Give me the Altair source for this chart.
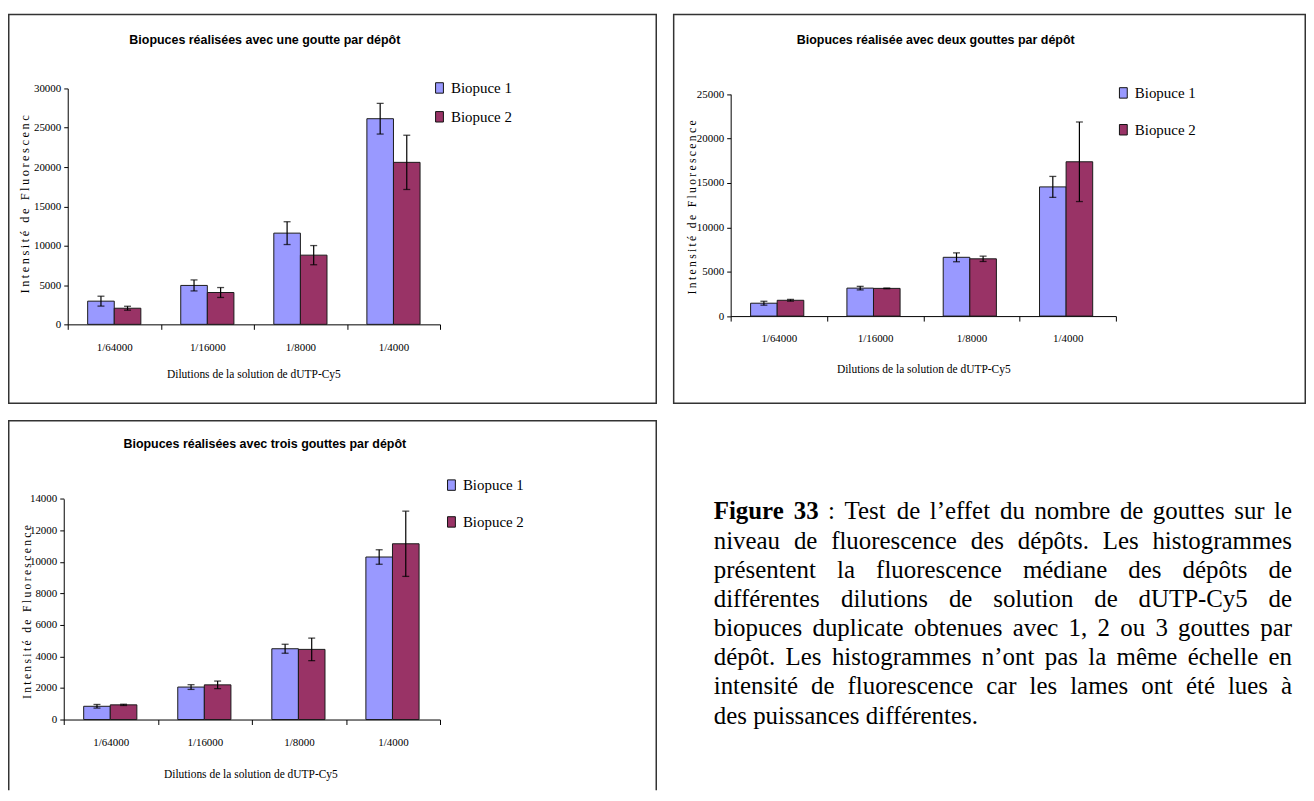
import altair as alt
import pandas as pd

# ---------------- data ----------------
categories = ["1/64000", "1/16000", "1/8000", "1/4000"]
series = ["Biopuce 1", "Biopuce 2"]
colors = ["#9999FF", "#993366"]

# panel 1 : une goutte
p1_b1 = [2950, 4950, 11600, 26150]
p1_b1_err = [630, 700, 1450, 1950]
p1_b2 = [2050, 4050, 8800, 20600]
p1_b2_err = [250, 630, 1220, 3450]
# panel 2 : deux gouttes
p2_b1 = [1450, 3150, 6620, 14550]
p2_b1_err = [220, 200, 500, 1180]
p2_b2 = [1780, 3120, 6450, 17380]
p2_b2_err = [100, 40, 300, 4480]
# panel 3 : trois gouttes
p3_b1 = [840, 2060, 4490, 10310]
p3_b1_err = [115, 150, 285, 460]
p3_b2 = [930, 2200, 4450, 11150]
p3_b2_err = [40, 240, 715, 2070]

panel_titles = [
    "Biopuces réalisées avec une goutte par dépôt",
    "Biopuces réalisée avec deux gouttes par dépôt",
    "Biopuces réalisées avec trois gouttes par dépôt",
]
y_ticks = [
    [0, 5000, 10000, 15000, 20000, 25000, 30000],
    [0, 5000, 10000, 15000, 20000, 25000],
    [0, 2000, 4000, 6000, 8000, 10000, 12000, 14000],
]
x_title = "Dilutions de la solution de dUTP-Cy5"
y_title = "Intensité de Fluorescence"

caption_lines = [
    "Figure 33 : Test de l’effet du nombre de gouttes sur le",
    "niveau de fluorescence des dépôts. Les histogrammes",
    "présentent la fluorescence médiane des dépôts de",
    "différentes dilutions de solution de dUTP-Cy5 de",
    "biopuces duplicate obtenues avec 1, 2 ou 3 gouttes par",
    "dépôt. Les histogrammes n’ont pas la même échelle en",
    "intensité de fluorescence car les lames ont été lues à",
    "des puissances différentes.",
]
caption_bold_words = 2  # "Figure", "33"

SERIF = "Liberation Serif, Times New Roman, serif"
NARROW = "Liberation Sans Narrow, Arial Narrow, Liberation Sans, sans-serif"
THIN = "\u2009"


def spaced(s):
    # letter-spaced rendering of the axis title (thin spaces between characters)
    return THIN.join(list(s))


def make_df(b1, e1, b2, e2):
    rows = []
    for s, vals, errs in ((series[0], b1, e1), (series[1], b2, e2)):
        for c, v, e in zip(categories, vals, errs):
            rows.append({"cat": c, "serie": s, "value": v, "lo": v - e, "hi": v + e})
    return pd.DataFrame(rows)


def panel(df, title, ticks, w, h, xr, yr, leg, title_xy, xt_xy, yt, clip_bottom=False):
    yscale = alt.Scale(domain=[ticks[0], ticks[-1]], range=yr, nice=False, zero=True)
    yaxis = alt.Axis(
        title=None, values=ticks, format="d", offset=-xr[0], grid=False,
        labelFont=SERIF, labelFontSize=11, labelColor="black",
        tickColor="black", domainColor="black", tickSize=4, labelPadding=3,
    )
    xenc = alt.X(
        "cat:N", sort=categories,
        scale=alt.Scale(range=xr, paddingInner=0, paddingOuter=0),
        axis=alt.Axis(
            title=None, offset=yr[0] - h, tickBand="extent", labelAngle=0,
            labelFont=SERIF, labelFontSize=11, labelColor="black",
            tickColor="black", domainColor="black", tickSize=5, labelPadding=12, grid=False,
        ),
    )
    xoff = alt.XOffset("serie:N", sort=series, scale=alt.Scale(paddingOuter=0.75, paddingInner=0))

    def yenc(field):
        return alt.Y(field, type="quantitative", scale=yscale, axis=yaxis)

    base = alt.Chart(df)
    bars = base.mark_bar(stroke="#1a1a1a", strokeWidth=1).encode(
        x=xenc, xOffset=xoff, y=yenc("value"),
        color=alt.Color(
            "serie:N", sort=series, scale=alt.Scale(domain=series, range=colors),
            legend=alt.Legend(
                orient="none", legendX=leg[0], legendY=leg[1], title=None, padding=0,
                symbolType="M-0.75,-1H0.75V1H-0.75Z", symbolSize=110,
                symbolStrokeColor="#111", symbolStrokeWidth=1, symbolOpacity=1,
                labelFont=SERIF, labelFontSize=15, labelColor="black",
                rowPadding=leg[2], labelOffset=4,
            ),
        ),
    )
    rules = base.mark_rule(color="black", strokeWidth=1.2).encode(
        x=xenc, xOffset=xoff, y=yenc("lo"), y2="hi:Q"
    )
    cap_hi = base.mark_tick(color="black", thickness=1.3, size=7, orient="horizontal").encode(
        x=xenc, xOffset=xoff, y=yenc("hi")
    )
    cap_lo = base.mark_tick(color="black", thickness=1.3, size=7, orient="horizontal").encode(
        x=xenc, xOffset=xoff, y=yenc("lo")
    )

    ttl = alt.Chart(pd.DataFrame({"t": [title]})).mark_text(
        font=NARROW, fontSize=12.5, fontWeight="bold", color="black", align="center", baseline="middle"
    ).encode(x=alt.value(title_xy[0]), y=alt.value(title_xy[1]), text="t:N")
    xt = alt.Chart(pd.DataFrame({"t": [x_title]})).mark_text(
        font=SERIF, fontSize=11.5, color="black", align="center", baseline="middle"
    ).encode(x=alt.value(xt_xy[0]), y=alt.value(xt_xy[1]), text="t:N")
    ytt = alt.Chart(pd.DataFrame({"t": [spaced(y_title)]})).mark_text(
        font=SERIF, fontSize=yt[4], color="black", align=yt[3], baseline="middle", angle=270,
        limit=yt[2], ellipsis="\u200b",
    ).encode(x=alt.value(yt[0]), y=alt.value(yt[1]), text="t:N")

    border = alt.Chart(pd.DataFrame({"k": [0]})).mark_rect(
        fill="white", fillOpacity=0, stroke="#333", strokeWidth=1.5, clip=clip_bottom
    ).encode(
        x=alt.value(0.75), x2=alt.value(w - 0.75),
        y=alt.value(0.75), y2=alt.value(h + 10 if clip_bottom else h - 0.75),
    )
    return alt.layer(border, bars, rules, cap_hi, cap_lo, ttl, xt, ytt).properties(width=w, height=h)


p1 = panel(make_df(p1_b1, p1_b1_err, p1_b2, p1_b2_err), panel_titles[0], y_ticks[0],
           652, 392, [60, 434], [312, 75], (426, 67, 13), (258, 26), (247, 363),
           (17, 281, 180, "left", 12.5))
p2 = panel(make_df(p2_b1, p2_b1_err, p2_b2, p2_b2_err), panel_titles[1], y_ticks[1],
           636, 392, [58, 445], [303.7, 80.7], (445, 72, 21), (264, 26), (252, 358),
           (19, 194.5, 400, "center", 11.7))
p3 = panel(make_df(p3_b1, p3_b1_err, p3_b2, p3_b2_err), panel_titles[2], y_ticks[2],
           652, 372, [56, 434], [301, 79.3], (438, 58, 21), (258, 24), (244, 357),
           (19, 193, 400, "center", 11.7), clip_bottom=True)

# ---------------- caption (justified with Times metrics) ----------------
TIMES = {" ": 250, ",": 250, ".": 250, ":": 278, "-": 333, "’": 333, "'": 333, "/": 278,
         "A": 722, "B": 667, "C": 667, "D": 722, "E": 611, "F": 556, "L": 611, "P": 556,
         "T": 611, "U": 722, "Y": 722,
         "a": 444, "b": 500, "c": 444, "d": 500, "e": 444, "f": 333, "g": 500, "h": 500,
         "i": 278, "j": 278, "k": 500, "l": 278, "m": 778, "n": 500, "o": 500, "p": 500,
         "q": 500, "r": 333, "s": 389, "t": 278, "u": 500, "v": 500, "w": 722, "x": 500,
         "y": 500, "z": 444, "é": 444, "è": 444, "ê": 444, "à": 444, "ô": 500}
TIMES_BOLD = {"F": 611, "i": 278, "g": 500, "u": 556, "r": 444, "e": 444, " ": 250}
FS = 25
LINE_H = 29.3


def word_width(word, bold):
    table = TIMES_BOLD if bold else TIMES
    return sum(table.get(ch, 500) for ch in word) * FS / 1000.0


cap_rows = []
left, right = 41, 622
for li, line in enumerate(caption_lines):
    words = line.split(" ")
    bolds = [(li == 0 and k < caption_bold_words) for k in range(len(words))]
    widths = [word_width(wd, b) for wd, b in zip(words, bolds)]
    if li < len(caption_lines) - 1:
        gap = (right - left - sum(widths)) / (len(words) - 1)
    else:
        gap = 0.25 * FS
    xpos = left
    for wd, b, wdt in zip(words, bolds, widths):
        cap_rows.append({"word": wd, "x": xpos, "line": li, "bold": "b" if b else "n"})
        xpos += wdt + gap
cap_df = pd.DataFrame(cap_rows)

cap_base = alt.Chart(cap_df).encode(
    x=alt.X("x:Q", scale=None, axis=None),
    y=alt.Y("line:Q", scale=alt.Scale(domain=[0, 7], range=[100, 100 + 7 * LINE_H]), axis=None),
    text="word:N",
)
cap_norm = cap_base.transform_filter(alt.datum.bold == "n").mark_text(
    font=SERIF, fontSize=FS, color="black", align="left", baseline="alphabetic"
)
cap_bold = cap_base.transform_filter(alt.datum.bold == "b").mark_text(
    font=SERIF, fontSize=FS, fontWeight="bold", color="black", align="left", baseline="alphabetic"
)
caption = alt.layer(cap_norm, cap_bold).properties(width=636, height=372)

row1 = alt.hconcat(p1, p2, spacing=16).resolve_scale(
    color="independent", x="independent", y="independent").resolve_legend(color="independent")
row2 = alt.hconcat(p3, caption, spacing=16).resolve_scale(
    color="independent", x="independent", y="independent").resolve_legend(color="independent")

chart = alt.vconcat(row1, row2, spacing=16).resolve_scale(
    color="independent", x="independent", y="independent"
).resolve_legend(color="independent").properties(
    padding={"left": 0, "top": 4, "right": 0, "bottom": 0}, background="white"
).configure_view(stroke=None)

chart.save("out.html", embed_options={"renderer": "svg", "actions": False})
